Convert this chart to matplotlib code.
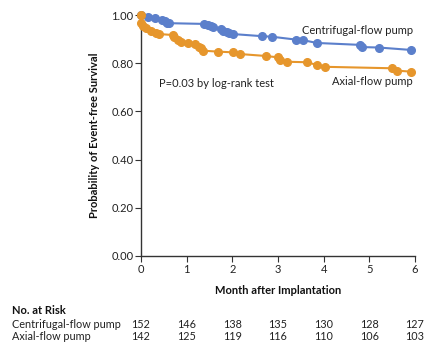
import matplotlib
matplotlib.use("Agg")
import matplotlib.pyplot as plt
from matplotlib.transforms import blended_transform_factory

plt.rcParams['font.family'] = ['Lato', 'DejaVu Sans']

# Kaplan-Meier points (month, event-free survival)
centri_t = [0, 0.15, 0.31, 0.47, 0.53, 0.58, 0.62, 1.39, 1.46, 1.53, 1.58,
            1.75, 1.80, 1.88, 1.93, 2.01, 2.66, 2.86, 3.39, 3.54, 3.85,
            4.80, 4.83, 5.21, 5.91]
centri_s = [1.0, 0.992, 0.988, 0.978, 0.974, 0.968, 0.966, 0.963, 0.957, 0.953, 0.949,
            0.942, 0.935, 0.929, 0.925, 0.921, 0.912, 0.910, 0.898, 0.896, 0.884,
            0.876, 0.867, 0.865, 0.855]

axial_t = [0, 0.01, 0.04, 0.11, 0.22, 0.33, 0.40, 0.69, 0.73, 0.80, 0.88,
           1.02, 1.19, 1.28, 1.31, 1.35, 1.69, 2.02, 2.17, 2.73, 3.01, 3.04,
           3.19, 3.63, 3.85, 4.03, 5.49, 5.61, 5.91]
axial_s = [1.0, 0.966, 0.956, 0.945, 0.935, 0.927, 0.921, 0.917, 0.907, 0.896, 0.889,
           0.883, 0.878, 0.868, 0.862, 0.852, 0.848, 0.845, 0.838, 0.830, 0.824, 0.813,
           0.806, 0.804, 0.793, 0.785, 0.779, 0.769, 0.765]

months = [0, 1, 2, 3, 4, 5, 6]
risk_centri = [152, 146, 138, 135, 130, 128, 127]
risk_axial = [142, 125, 119, 116, 110, 106, 103]

blue = '#5B7FCB'
orange = '#E6962C'
dark = '#333333'

fig = plt.figure(figsize=(4.38, 3.57), dpi=100)
ax = fig.add_axes([141/438, 1 - 256/357, 274/438, 241/357])

ax.plot(centri_t, centri_s, color=blue, lw=1.5, marker='o', ms=5.5,
        mec=blue, clip_on=False, zorder=3)
ax.plot(axial_t, axial_s, color=orange, lw=1.5, marker='o', ms=5.5,
        mec=orange, clip_on=False, zorder=4)

ax.set_xlim(0, 6)
ax.set_ylim(0, 1)
ax.set_xticks(months)
ax.set_yticks([0, 0.2, 0.4, 0.6, 0.8, 1.0])
ax.set_yticklabels(['0.00', '0.20', '0.40', '0.60', '0.80', '1.00'])

for s in ['top', 'right']:
    ax.spines[s].set_visible(False)
for s in ['left', 'bottom']:
    ax.spines[s].set_color(dark)
    ax.spines[s].set_linewidth(1)
ax.tick_params(colors=dark, labelcolor='#222222', labelsize=8, length=4, width=0.8, pad=1.5)

ax.set_ylabel('Probability of Event-free Survival', fontsize=8, fontweight='bold', color='#111111')
ax.yaxis.set_label_coords(-0.15, 0.5)
ax.set_xlabel('Month after Implantation', fontsize=8, fontweight='bold', color='#111111')
ax.xaxis.set_label_coords(0.5, -0.12)

ax.text(5.96, 0.934, 'Centrifugal-flow pump', ha='right', va='center', fontsize=8, color='#222222')
ax.text(5.96, 0.722, 'Axial-flow pump', ha='right', va='center', fontsize=8, color='#222222')
ax.text(0.39, 0.714, 'P=0.03 by log-rank test', ha='left', va='center', fontsize=8, color='#222222')

# number at risk table
fig.text(12/438, 1 - 311/357, 'No. at Risk', ha='left', va='center', fontsize=8, fontweight='bold', color='#111111')
fig.text(12/438, 1 - 325/357, 'Centrifugal-flow pump', ha='left', va='center', fontsize=7.8, color='#222222')
fig.text(12/438, 1 - 337/357, 'Axial-flow pump', ha='left', va='center', fontsize=7.8, color='#222222')
trans = blended_transform_factory(ax.transData, fig.transFigure)
for m, c, a in zip(months, risk_centri, risk_axial):
    ax.text(m, 1 - 325/357, str(c), transform=trans, ha='center', va='center', fontsize=7.8, color='#222222')
    ax.text(m, 1 - 337/357, str(a), transform=trans, ha='center', va='center', fontsize=7.8, color='#222222')

fig.savefig('out.png', dpi=100)
